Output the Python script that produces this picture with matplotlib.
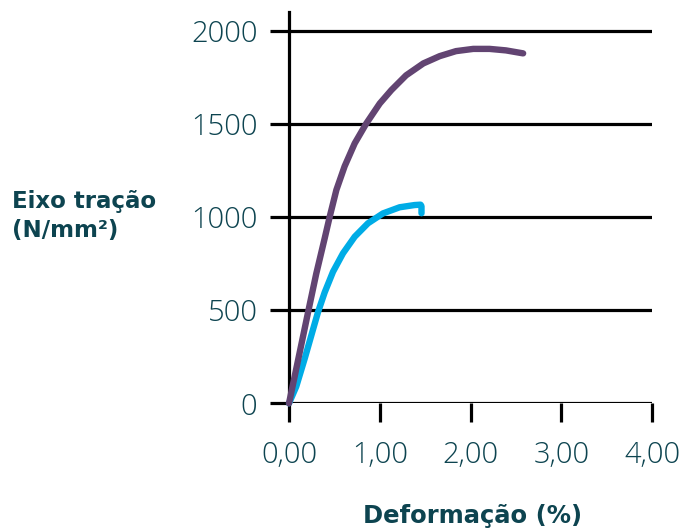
import matplotlib.pyplot as plt

# tensile test curves
purple_x = [0, 0.11, 0.215, 0.30, 0.393, 0.448, 0.522, 0.613, 0.724, 0.852, 1.0, 1.128,
            1.29, 1.48, 1.66, 1.84, 2.03, 2.21, 2.39, 2.58]
purple_y = [0, 255, 500, 695, 885, 1000, 1145, 1272, 1395, 1502, 1609, 1681,
            1760, 1824, 1863, 1890, 1902, 1902, 1894, 1878]
blue_x = [0, 0.08, 0.173, 0.264, 0.32, 0.393, 0.485, 0.595, 0.724, 0.87, 1.035, 1.219,
          1.384, 1.45, 1.46, 1.46]
blue_y = [0, 90, 240, 395, 490, 595, 706, 805, 894, 966, 1019, 1052,
          1064, 1066, 1058, 1020]
xticks = [0, 1, 2, 3, 4]
xlabels = ['0,00', '1,00', '2,00', '3,00', '4,00']
yticks = [0, 500, 1000, 1500, 2000]

text_col = '#0d4450'
plt.rcParams['font.family'] = 'Open Sans'

fig = plt.figure(figsize=(6.81, 5.30), dpi=100)
ax = fig.add_axes([289/681, 1-403.3/530, (652-289)/681, (403.3-12)/530])

for y in yticks:
    ax.axhline(y, color='black', lw=2.3, zorder=1)

ax.plot(blue_x, blue_y, color='#00ace6', lw=4.6, solid_capstyle='round',
        solid_joinstyle='round', clip_on=False, zorder=3)
ax.plot(purple_x, purple_y, color='#624472', lw=4.6, solid_capstyle='round',
        solid_joinstyle='round', clip_on=False, zorder=4)

ax.set_xlim(0, 4)
ax.set_ylim(0, 2100)
ax.set_xticks(xticks)
ax.set_xticklabels(xlabels)
ax.set_yticks(yticks)
for s in ['top', 'right', 'bottom']:
    ax.spines[s].set_visible(False)
ax.spines['left'].set_linewidth(2.3)
ax.tick_params(length=13.7, width=2.3, color='black', labelsize=21,
               labelcolor=text_col)
for lab in ax.get_xticklabels() + ax.get_yticklabels():
    lab.set_fontweight('light')
ax.tick_params(axis='y', pad=9)
ax.tick_params(axis='x', pad=13)

fig.text(12/681, 1-216/530, 'Eixo tração\n(N/mm²)', ha='left', va='center',
         fontsize=16.5, fontweight='bold', color=text_col, linespacing=1.35,
         family='DejaVu Sans')
fig.text(473/681, 1-516/530, 'Deformação (%)', ha='center', va='center',
         fontsize=17.5, fontweight='bold', color=text_col, family='DejaVu Sans')

fig.savefig('out.png', dpi=100)
